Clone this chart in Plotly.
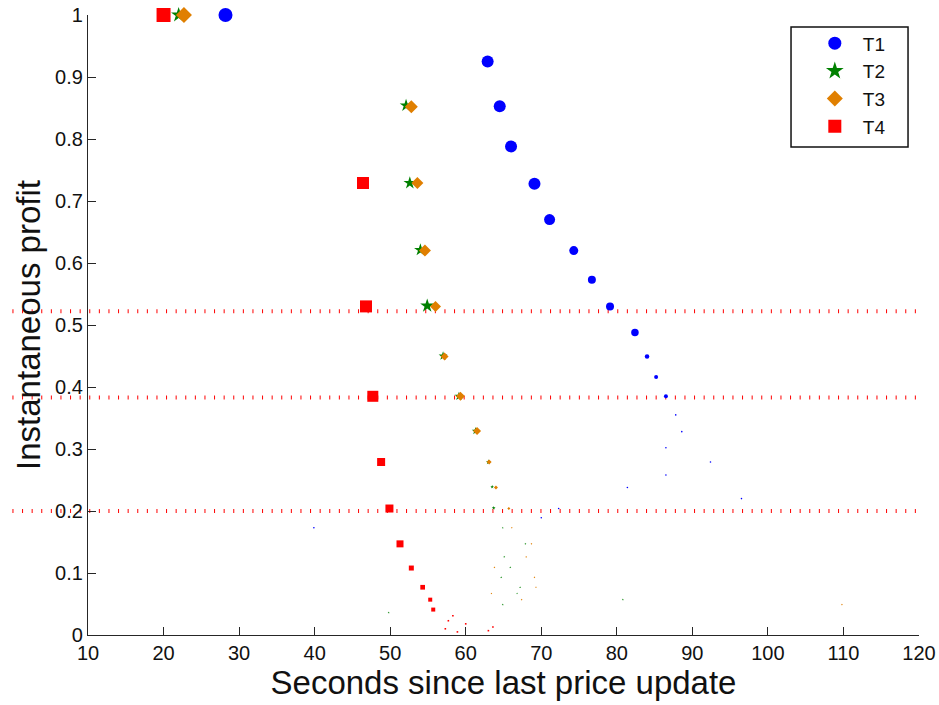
import plotly.graph_objects as go

# ---------------- data ----------------
t1_x = [28.2, 62.9, 64.5, 66.0, 69.1, 71.1, 74.3, 76.7, 79.1, 82.4, 84.0, 85.2, 86.5,
        87.8, 88.6, 86.5, 92.4, 86.5, 81.4, 96.5, 72.3, 70.0, 39.9]
t1_y = [1.0, 0.925, 0.853, 0.788, 0.728, 0.670, 0.620, 0.573, 0.530, 0.488, 0.449, 0.416, 0.385,
        0.355, 0.328, 0.302, 0.279, 0.258, 0.238, 0.220, 0.204, 0.189, 0.173]
t1_px = [14, 12, 12, 12, 12, 11, 9, 8, 8, 7.5, 4.5, 4, 4,
         1.6, 1.6, 1.6, 1.6, 1.6, 1.6, 1.6, 1.6, 1.6, 1.6]

t2_x = [22.0, 52.1, 52.6, 54.0, 54.9, 57.0, 59.1, 61.3, 63.0, 63.5, 63.7,
        64.9, 67.9, 65.1, 65.9, 64.7, 67.2, 66.8, 80.8, 64.9, 49.8]
t2_y = [1.0, 0.854, 0.729, 0.621, 0.531, 0.450, 0.385, 0.329, 0.279, 0.239, 0.205,
        0.173, 0.147, 0.126, 0.109, 0.093, 0.077, 0.067, 0.057, 0.049, 0.036]
t2_px = [12, 10, 10, 10, 11, 7, 7, 6, 4, 3, 3,
         1.6, 1.6, 1.6, 1.6, 1.6, 1.6, 1.6, 1.6, 1.6, 1.6]

t3_x = [22.7, 52.8, 53.6, 54.6, 56.0, 57.2, 59.3, 61.5, 63.1, 64.0, 65.7,
        66.1, 68.7, 68.0, 63.8, 69.1, 69.3, 63.4, 67.4, 109.8]
t3_y = [1.0, 0.852, 0.729, 0.620, 0.530, 0.449, 0.385, 0.329, 0.279, 0.238, 0.204,
        0.173, 0.147, 0.126, 0.109, 0.093, 0.077, 0.067, 0.057, 0.049]
t3_px = [16, 13, 12, 12, 11, 8, 9, 8, 5, 4, 3,
         1.6, 1.6, 1.6, 1.6, 1.6, 1.6, 1.6, 1.6, 1.6]

t4_x = [20.0, 46.4, 46.8, 47.7, 48.8, 49.9, 51.3, 52.8, 54.3, 55.3, 55.7,
        58.3, 57.7, 60.0, 63.6, 57.3, 63.0, 58.9]
t4_y = [1.0, 0.729, 0.530, 0.385, 0.279, 0.204, 0.147, 0.108, 0.077, 0.057, 0.041,
        0.031, 0.023, 0.018, 0.013, 0.010, 0.007, 0.005]
t4_px = [14, 12, 12, 11, 8, 8, 7, 5, 4.7, 4, 4,
         1.6, 1.6, 1.6, 1.6, 1.6, 1.6, 1.6]

threshold_levels = [0.522, 0.383, 0.2]
threshold_x = [0, 120]

x_range = [10, 120]
y_range = [0, 1]
x_ticks = list(range(10, 121, 10))
y_ticks = [i / 10 for i in range(11)]

series_names = ["T1", "T2", "T3", "T4"]

# ---------------- styles ----------------
FONT = "Liberation Sans, Arial, Helvetica, sans-serif"
colors = ["#0000FF", "#008000", "#E07F00", "#FF0000"]
symbols = ["circle", "star", "diamond", "square"]
extent_factor = {"circle": 1.0, "star": 1.05, "diamond": 1.3, "square": 1.0}

series = [(t1_x, t1_y, t1_px), (t2_x, t2_y, t2_px), (t3_x, t3_y, t3_px), (t4_x, t4_y, t4_px)]

fig = go.Figure()
for (xs, ys, px), name, col, sym in zip(series, series_names, colors, symbols):
    f = extent_factor[sym]
    fig.add_trace(go.Scatter(
        x=xs, y=ys, mode="markers", name=name, showlegend=False,
        cliponaxis=False,
        marker=dict(symbol=sym, color=col, size=[p / f for p in px], opacity=1, line=dict(width=0)),
    ))

legend_px = {"circle": 13, "star": 14, "diamond": 16, "square": 13}
for name, col, sym in zip(series_names, colors, symbols):
    fig.add_trace(go.Scatter(
        x=[None], y=[None], mode="markers", name=name, showlegend=True, legendgroup=name,
        marker=dict(symbol=sym, color=col, size=legend_px[sym] / extent_factor[sym], opacity=1,
                    line=dict(width=0)),
    ))

# dotted threshold lines, extending from x=0 (outside the axes) to x=120
def to_paper_x(v):
    return (v - x_range[0]) / (x_range[1] - x_range[0])

def to_paper_y(v):
    return (v - y_range[0]) / (y_range[1] - y_range[0])

for lvl in threshold_levels:
    fig.add_shape(type="line", xref="paper", yref="paper",
                  x0=to_paper_x(threshold_x[0]), x1=to_paper_x(threshold_x[1]),
                  y0=to_paper_y(lvl), y1=to_paper_y(lvl),
                  line=dict(color="#FF0000", width=4, dash="1px,8.6px"), layer="below")

# legend frame
fig.add_shape(type="rect", xref="paper", yref="paper",
              x0=0.846, x1=0.9868, y0=0.787, y1=0.9806,
              line=dict(color="#111", width=1.5), fillcolor="white", layer="below")

axis_common = dict(
    showgrid=False, zeroline=False, showline=True, linecolor="#262626", linewidth=1.2,
    ticks="inside", ticklen=8, tickwidth=1, tickcolor="#262626", automargin=False,
    tickfont=dict(family=FONT, size=20, color="#111"), mirror=False,
)

fig.update_layout(
    width=939, height=705,
    margin=dict(l=88, r=20, t=15, b=70),
    paper_bgcolor="white", plot_bgcolor="white",
    xaxis=dict(range=x_range, tickvals=x_ticks,
               title=dict(text="Seconds since last price update", font=dict(family=FONT, size=33, color="#111"), standoff=6),
               **axis_common),
    yaxis=dict(range=y_range, tickvals=y_ticks,
               title=dict(text="Instantaneous profit", font=dict(family=FONT, size=33, color="#111"), standoff=4),
               **axis_common),
    legend=dict(x=0.865, y=0.985, xanchor="left", yanchor="top",
                bgcolor="rgba(0,0,0,0)", borderwidth=0,
                font=dict(family=FONT, size=19, color="#111"),
                itemwidth=46, tracegroupgap=0),
    showlegend=True,
)

fig.write_html("out.html")
